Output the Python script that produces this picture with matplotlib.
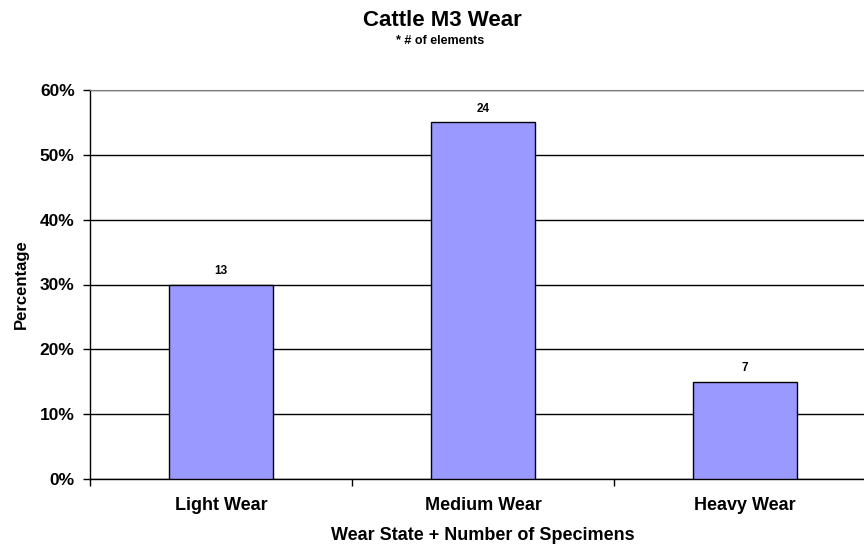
import matplotlib
matplotlib.use('Agg')
matplotlib.rcParams.update({'font.family': ['Liberation Sans', 'DejaVu Sans']})
matplotlib.rcParams.update({'font.weight': 'bold'})
import matplotlib.pyplot as plt
from matplotlib.ticker import FuncFormatter

categories = ['Light Wear', 'Medium Wear', 'Heavy Wear']
percentages = [30, 55, 15]
counts = [13, 24, 7]

fig = plt.figure(figsize=(8.64, 5.46), dpi=100)
ax = fig.add_axes([90 / 864, 67 / 546, 786 / 864, 389 / 546])

x = range(len(categories))
ax.bar(x, percentages, width=0.4, color='#9999FF', edgecolor='black', linewidth=1, zorder=3)
for xi, p, c in zip(x, percentages, counts):
    ax.text(xi, p + 1.2, str(c), ha='center', va='bottom', fontsize=8.5, fontweight='bold')

ax.set_xlim(-0.5, 2.5)
ax.set_ylim(0, 60)
ax.set_yticks(range(0, 61, 10))
ax.yaxis.set_major_formatter(FuncFormatter(lambda v, pos: '%d%%' % v))
ax.yaxis.grid(True, color='black', linewidth=1, zorder=0)
ax.set_xticks([-0.5, 0.5, 1.5, 2.5])
ax.set_xticklabels([])
ax.set_xticks(list(x), minor=True)
ax.set_xticklabels(categories, minor=True, fontsize=13, fontweight='bold')
ax.tick_params(axis='x', which='minor', length=0, pad=13)
ax.tick_params(axis='x', which='major', length=5, direction='out', width=1)
ax.tick_params(axis='y', length=5, width=1, labelsize=12.5, pad=6)

ax.spines['right'].set_visible(False)
ax.spines['top'].set_color('#808080')
ax.spines['left'].set_linewidth(1)
ax.spines['bottom'].set_linewidth(1)

ax.set_ylabel('Percentage', fontsize=12, fontweight='bold', labelpad=8)
ax.set_xlabel('Wear State + Number of Specimens', fontsize=13, fontweight='bold', labelpad=9)

fig.text(442 / 864, 1 - 21 / 546, 'Cattle M3 Wear', ha='center', va='center', fontsize=16, fontweight='bold')
fig.text(440 / 864, 1 - 41 / 546, '* # of elements', ha='center', va='center', fontsize=9, fontweight='bold')

fig.savefig('out.png', dpi=100)
plt.close()
